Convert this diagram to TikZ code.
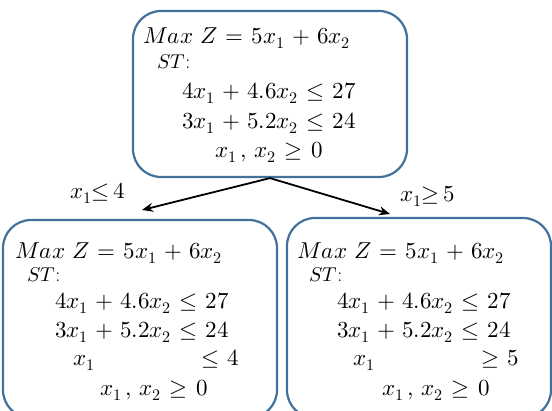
\documentclass[tikz,border=0pt]{standalone}
\usepackage{unicode-math}
\setmathfont{Latin Modern Math}
\usetikzlibrary{arrows.meta}
\definecolor{boxblue}{RGB}{65,113,156}
\newcommand{\eqfont}{\fontsize{23}{27}\selectfont\medmuskip=5.5mu\thickmuskip=6.5mu}
\tikzset{
  lpbox/.style={draw=boxblue, line width=2.2pt, rounded corners=28pt, fill=white, inner sep=0pt},
  eq/.style={anchor=base west, inner sep=0pt, font=\eqfont},
  eqr/.style={anchor=base east, inner sep=0pt, font=\eqfont},
  st/.style={anchor=base west, inner sep=0pt, font=\fontsize{20}{23}\selectfont},
  branch/.style={-{Stealth[length=11pt,width=9pt]}, line width=1.8pt},
}
\begin{document}
\begin{tikzpicture}[x=1pt,y=-1pt]
\useasboundingbox (0,0) rectangle (552,410);
\clip (0,0) rectangle (552,410);
% boxes
\node[lpbox, minimum width=274pt, minimum height=166pt] (top) at (270,94) {};
\node[lpbox, minimum width=274pt, minimum height=198pt] (left) at (140,319) {};
\node[lpbox, minimum width=264pt, minimum height=200pt] (right) at (419,318) {};
% connectors
\coordinate (lend) at (142,210);
\coordinate (rend) at (390,214);
\draw[branch] (top.south) -- (lend);
\draw[branch] (top.south) -- (rend);
% branch labels
\node[eq] (lbl) at (70,198) {$x_1{\leq}\,4$};
\node[eq] (rbl) at (400,201) {$x_1{\geq}\,5$};
% top problem
\node[eq] (t1) at (143,43) {$Max\ Z = 5x_1 + 6x_2$};
\node[st] (t2) at (157,68) {$ST$:};
\node[eq] (t3) at (182,98) {$4x_1 + 4.6x_2 \leq 27$};
\node[eq] (t4) at (182,128) {$3x_1 + 5.2x_2 \leq 24$};
\node[eq] (t5) at (215,157) {$x_1\,,\, x_2 \geq 0$};
% left problem
\node[eq] (l1) at (15,258) {$Max\ Z = 5x_1 + 6x_2$};
\node[st] (l2) at (27,281) {$ST$:};
\node[eq] (l3) at (55,308) {$4x_1 + 4.6x_2 \leq 27$};
\node[eq] (l4) at (55,337) {$3x_1 + 5.2x_2 \leq 24$};
\node[eq] (l5) at (73,365) {$x_1$};
\node[eqr] (l6) at (239,365) {$\leq 4$};
\node[eq] (l7) at (100,395) {$x_1\,,\, x_2 \geq 0$};
% right problem
\node[eq] (r1) at (297,258) {$Max\ Z = 5x_1 + 6x_2$};
\node[st] (r2) at (309,281) {$ST$:};
\node[eq] (r3) at (337,308) {$4x_1 + 4.6x_2 \leq 27$};
\node[eq] (r4) at (337,337) {$3x_1 + 5.2x_2 \leq 24$};
\node[eq] (r5) at (353,365) {$x_1$};
\node[eqr] (r6) at (519,365) {$\geq 5$};
\node[eq] (r7) at (382,395) {$x_1\,,\, x_2 \geq 0$};
\end{tikzpicture}
\end{document}
